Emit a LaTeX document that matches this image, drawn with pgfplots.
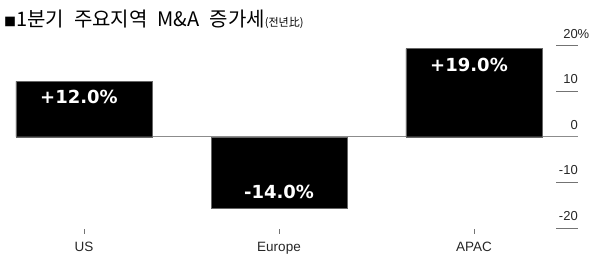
\documentclass[border=0pt]{standalone}
\usepackage{pgfplots}
\pgfplotsset{compat=1.18}
\usepackage{fontspec}
\setmainfont{Liberation Sans}
\newfontfamily\kr{Noto Sans CJK KR}
\newfontfamily\hand{DejaVu Sans}
\begin{document}
\begin{tikzpicture}
\path[use as bounding box] (0,0) rectangle (599pt,271pt);
\node[anchor=base west, inner sep=0pt] at (4pt,244.5pt)
  {\kr\fontsize{20}{20}\selectfont{\fontsize{12}{12}\selectfont ■}1분기\hspace{10pt}주요지역\hspace{10pt}M\&A\hspace{10pt}증가세{\fontsize{11}{11}\selectfont (전년比)}};
\begin{axis}[
  anchor=origin, at={(84pt,134.3pt)},
  x=195pt, y=4.56pt,
  xmin=-0.35, xmax=2.533, ymin=-21.3, ymax=22,
  axis y line*=right, axis x line*=bottom,
  axis line style={draw=none},
  ytick={-20,-10,0,10,20},
  yticklabels={-20,-10,0,10,20\rlap{\%}},
  ytick pos=right,
  tick align=inside,
  major tick length=22pt,
  ytick style={black!55, line width=0.7pt},
  yticklabel style={anchor=south east, inner sep=0pt, yshift=7pt, font=\fontsize{13}{13}\selectfont, text=black!85},
  tick label style={/pgf/number format/assume math mode=true},
  xtick={0,1,2},
  xticklabels={US,Europe,APAC},
  xtick pos=bottom,
  xtick style={black!55, line width=0.5pt, /pgfplots/major tick length=5pt},
  xticklabel style={font=\fontsize{13.5}{13.5}\selectfont, text=black!85, yshift=-5pt},
  clip=false,
]
\draw[black!45, line width=0.7pt] (axis cs:-0.35,0) -- (axis cs:2.533,0);
\addplot[ybar, bar width=136.5pt, bar shift=0pt, fill=black, draw=black!60,
  point meta=explicit symbolic, nodes near coords,
  every node near coord/.append style={anchor=center, yshift=-16pt, xshift=-5pt, text=white, font=\hand\bfseries\fontsize{18}{18}\selectfont}]
  coordinates {(0,12.15) [+12.0\%] (2,19.3) [+19.0\%]};
\addplot[ybar, bar width=136.5pt, bar shift=0pt, fill=black, draw=black!60,
  point meta=explicit symbolic, nodes near coords,
  every node near coord/.append style={anchor=center, yshift=16pt, text=white, font=\hand\bfseries\fontsize{18}{18}\selectfont}]
  coordinates {(1,-15.7) [-14.0\%]};
\end{axis}
\end{tikzpicture}
\end{document}
